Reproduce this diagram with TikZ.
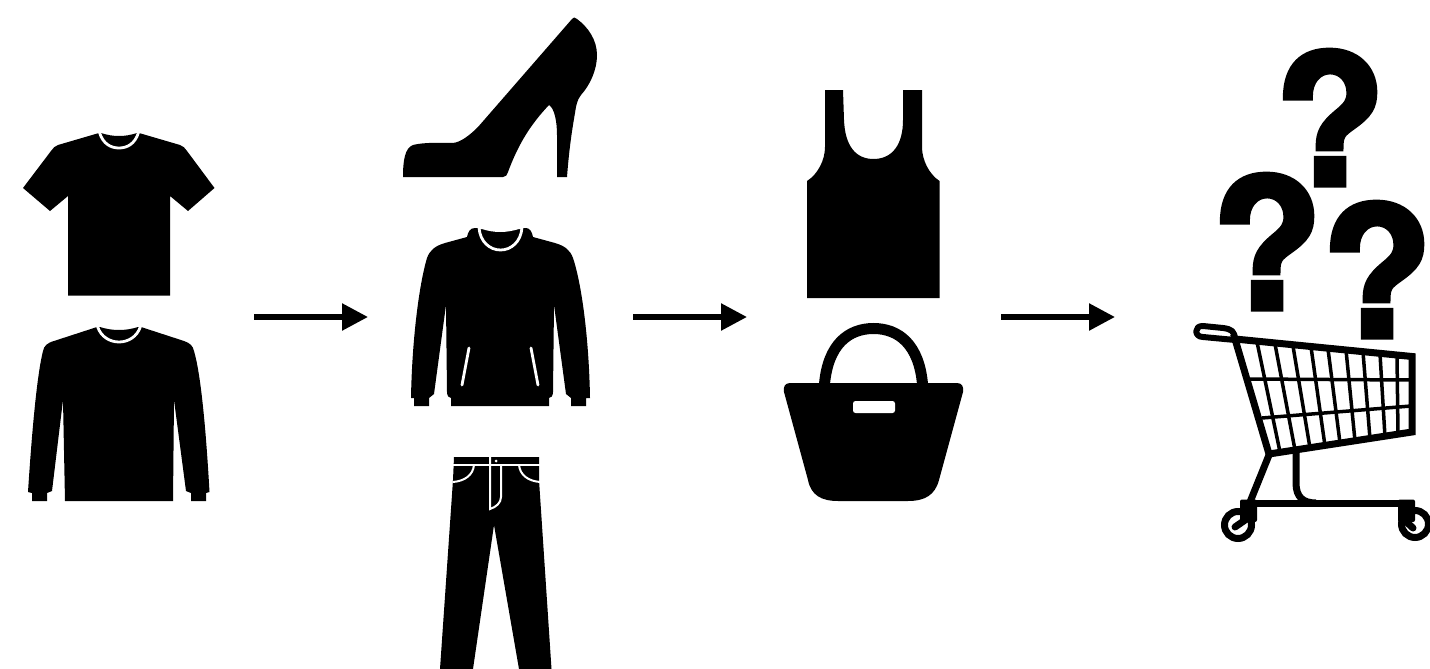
\documentclass[tikz,border=0pt]{standalone}
\usepackage{fontspec}
\newfontfamily\qfont[BoldFeatures={FakeBold=3}]{TeX Gyre Heros}
\usetikzlibrary{arrows.meta}
\tikzset{
  garment/.style={fill=black,draw=none},
  seam/.style={draw=white,line width=2.8pt,line cap=round},
  thinseam/.style={draw=white,line width=2pt,line cap=butt},
  wire/.style={draw=black,line width=3.5pt},
  rail/.style={draw=black,line width=7pt,line join=miter},
  flowarrow/.style={draw=black,line width=5.5pt,-{Triangle[length=26pt,width=26pt]},shorten >=0pt},
  quest/.style={font=\qfont\bfseries\fontsize{181}{181}\selectfont,anchor=base,inner sep=0pt,text=black}
}
\begin{document}
\begin{tikzpicture}[x=1pt,y=-1pt]
\useasboundingbox (0,0) rectangle (1430,669);
% T-shirt
\fill[garment] (99,133) -- (58,145) .. controls (55,146) and (53,148) .. (51,151) -- (23,188) -- (50,211) -- (68,196) -- (68,295.5) -- (170,295.5) -- (170,196) -- (188,211) -- (214.5,188) -- (187,151) .. controls (185,148) and (183,146) .. (180,145) -- (139,133) -- (137,133) .. controls (125,137) and (113,137) .. (101,133) -- cycle;
\draw[seam,line cap=butt] (99.5,132.5) .. controls (103,144) and (111,148) .. (119,148) .. controls (127,148) and (135,144) .. (138.5,132.5);
% long sleeve
\fill[garment] (97,327) -- (54,341) .. controls (47,343) and (44,346) .. (43,351) .. controls (37,375) and (32,430) .. (28,492) -- (32,493) -- (32,501) -- (47,501) -- (47,493) -- (52,491) -- (63,400) -- (65,501) -- (173,501) -- (174,400) -- (186,491) -- (191,493) -- (191,501) -- (206,501) -- (206,493) -- (209.5,492) .. controls (206,430) and (201,375) .. (194,351) .. controls (193,346) and (190,343) .. (184,341) -- (141,327) -- (138,327) .. controls (126,331) and (112,331) .. (100,327) -- cycle;
\draw[seam,line cap=butt] (97.5,326.5) .. controls (101,337) and (110,342) .. (119,342) .. controls (128,342) and (137,337) .. (140.5,326.5);
% shoe
\fill[garment] (403,177) .. controls (403,160) and (405,148) .. (413,145) .. controls (425,142) and (440,143) .. (452,143) .. controls (460,143) and (470,135) .. (478,127) -- (572,19) .. controls (573,17) and (575,17) .. (577,19) .. controls (588,27) and (597,40) .. (597,55) .. controls (597,70) and (590,85) .. (581,95) .. controls (577,100) and (576,106) .. (575,113) .. controls (572,130) and (569,150) .. (567,177) -- (557,177) -- (557,135) .. controls (557,120) and (554,108) .. (549,105) .. controls (530,125) and (518,145) .. (508,172) .. controls (507,175) and (506,177) .. (503,177) -- cycle;
% hoodie
\fill[garment] (467,237) .. controls (468,232) and (470,228) .. (475,228) -- (522,228) -- (526,228) .. controls (530,228) and (532,232) .. (533,237) -- (555,243) .. controls (565,246) and (570,250) .. (573,258) .. controls (582,285) and (589,340) .. (590,398) -- (586,398) -- (586,406) -- (571,406) -- (571,398) -- (566,394) -- (554,305) -- (553,392) .. controls (553,396) and (551,398) .. (549,398) -- (549,406) -- (451,406) -- (451,398) .. controls (449,398) and (447,396) .. (447,392) -- (446,305) -- (434,394) -- (429,398) -- (429,406) -- (414,406) -- (414,398) -- (411,398) .. controls (412,340) and (419,285) .. (427,258) .. controls (430,250) and (435,246) .. (445,243) -- cycle;
\fill[white] (478,227) -- (522,227) -- (522,229) -- (519,229) .. controls (506,233) and (494,233) .. (482,229) -- (478,229) -- cycle;
\draw[seam,line cap=butt] (479,227.5) .. controls (480,242) and (490,250) .. (500.5,250) .. controls (511,250) and (521,242) .. (522,227.5);
\draw[seam] (469,348) -- (462,385);
\draw[seam] (531,348) -- (538,385);
% jeans
\fill[garment] (454,457) -- (539,457) -- (539,480) -- (551.5,669) -- (519,669) -- (494,525) -- (473,669) -- (440,669) -- (453,480) -- cycle;
\draw[thinseam] (453,465) -- (540,465);
\draw[thinseam] (490,457) -- (490,509) .. controls (496,507) and (501,503) .. (501,497) -- (501,465);
\draw[thinseam] (474,465) .. controls (473,475) and (465,481) .. (453,482);
\draw[thinseam] (519,465) .. controls (520,475) and (528,481) .. (540,482);
\fill[white] (496,461) circle (1.5);
% tank
\fill[garment] (825,90) -- (843,90) -- (844,120) .. controls (845,145) and (855,159) .. (873.5,159) .. controls (892,159) and (903,145) .. (903,120) -- (903,90) -- (922,90) -- (922,147) .. controls (922,160) and (929,174) .. (939.5,181) -- (939.5,298) -- (807,298) -- (807,181) .. controls (818,174) and (825,160) .. (825,147) -- cycle;
% bag
\fill[garment] (790,383) -- (957,383) .. controls (962,383) and (964,387) .. (963,392) -- (939,480) .. controls (935,495) and (925,501) .. (908,501) -- (838,501) .. controls (821,501) and (811,495) .. (808,480) -- (784,392) .. controls (783,387) and (785,383) .. (790,383) -- cycle;
\draw[draw=black,line width=11pt] (824.5,384) .. controls (828,345) and (848,328.5) .. (873.5,328.5) .. controls (899,328.5) and (919,345) .. (922.5,384);
\fill[white,rounded corners=2.5pt] (853,401) rectangle (895,413);
% question marks
\node[quest] (q1) at (1330,185) {?};
\node[quest] (q2) at (1267,309) {?};
\node[quest] (q3) at (1377,337) {?};
% cart
\draw[black,line width=6pt,line join=round] (1235,340) .. controls (1235,331) and (1231,329) .. (1223,328) -- (1203,326) .. controls (1194,325.5) and (1194,337) .. (1203,337) -- (1235,340);
\draw[rail] (1235,339) -- (1412,356.5) -- (1412,432) -- (1269,454) -- cycle;
\draw[wire] (1248,379) -- (1411,380);
\draw[wire] (1262,418) -- (1411,406);
\foreach \xa/\ya/\xb/\yb in {1257/342/1280/452,1275/344/1295/450,1293/346/1310/448,1311/347/1325/446,1328/349/1340/443,1346/350/1355/441,1363/352/1370/439,1380/354/1385/437,1397/355/1398/435}
  \draw[wire] (\xa,\ya) -- (\xb,\yb);
\draw[black,line width=7pt] (1269,455) -- (1250,502);
\draw[black,line width=7pt] (1296,453) -- (1296,483) .. controls (1296,497) and (1303,503) .. (1316,503);
\draw[rail] (1242,503) -- (1413,503);
\fill[black,rounded corners=2pt] (1240,499.5) rectangle (1257,522);
\fill[black,rounded corners=2pt] (1398,499.5) rectangle (1415,522);
\draw[black,line width=7pt] (1238,525) circle (13.5);
\draw[black,line width=7pt] (1415,524) circle (13.5);
\draw[black,line width=7pt,line cap=round] (1235,527) -- (1248,518);
\draw[black,line width=7pt,line cap=round] (1413,528) -- (1402,518);
% arrows
\coordinate (a1s) at (254,317); \coordinate (a1e) at (368,317);
\coordinate (a2s) at (633,317); \coordinate (a2e) at (747,317);
\coordinate (a3s) at (1001,317); \coordinate (a3e) at (1115,317);
\draw[flowarrow] (a1s) -- (a1e);
\draw[flowarrow] (a2s) -- (a2e);
\draw[flowarrow] (a3s) -- (a3e);
\end{tikzpicture}
\end{document}
